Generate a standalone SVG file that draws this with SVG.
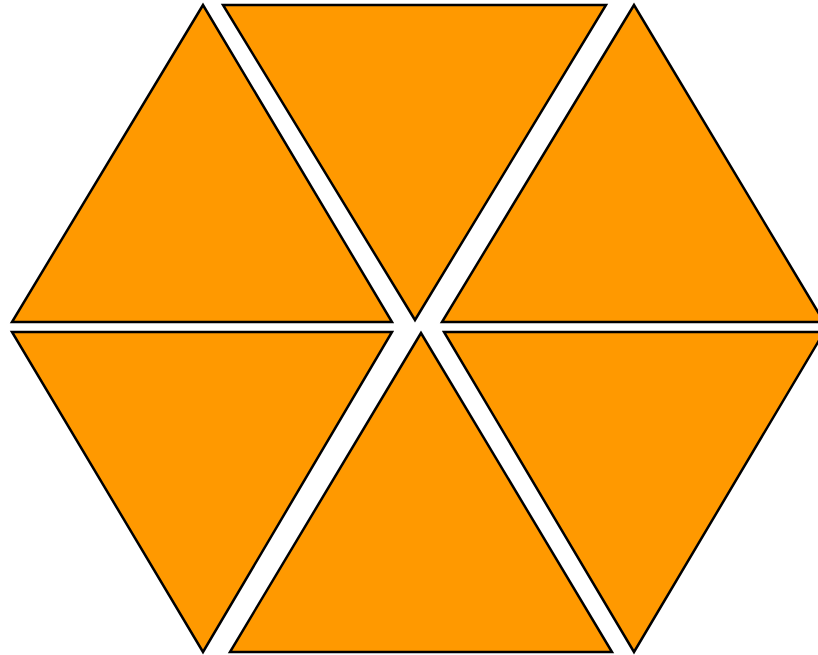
<svg xmlns="http://www.w3.org/2000/svg" width="818" height="655" viewBox="0 0 818 655">
<style>
.t{fill:#FF9900;stroke:#000;stroke-width:2.5;stroke-linejoin:miter}
</style>
<rect width="818" height="655" fill="#fff"/>
<g id="tri-upper-left"><polygon class="t" points="203,5 12,322 392,322"/></g>
<g id="tri-top"><polygon class="t" points="223,5 606,5 415,320"/></g>
<g id="tri-upper-right"><polygon class="t" points="634,5 442,322 824,322"/></g>
<g id="tri-lower-left"><polygon class="t" points="12,332 392,332 203,652"/></g>
<g id="tri-bottom"><polygon class="t" points="421,333 230,652 612,652"/></g>
<g id="tri-lower-right"><polygon class="t" points="444,332 824,332 634,652"/></g>
<g id="connectors"></g>
</svg>
